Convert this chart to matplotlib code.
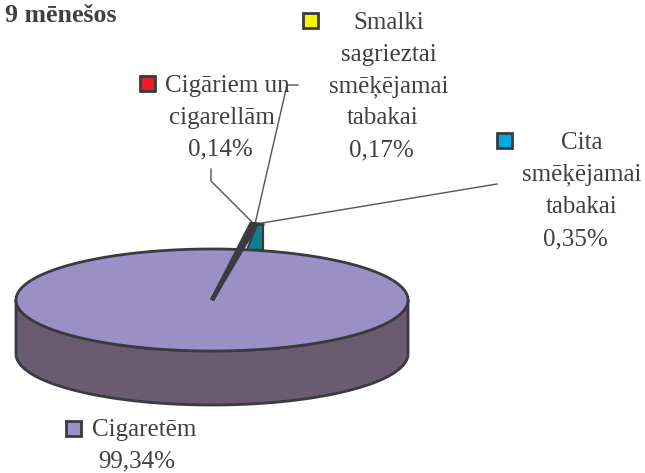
import numpy as np
import matplotlib
matplotlib.use('Agg')
import matplotlib.pyplot as plt
from matplotlib.patches import Polygon, Rectangle

plt.rcParams['font.family'] = ['Liberation Serif', 'DejaVu Serif']

title = '9 mēnešos'
# going counter clockwise from the start angle
names = ['Cita\nsmēķējamai\ntabakai', 'Smalki\nsagrieztai\nsmēķējamai\ntabakai',
         'Cigāriem un\ncigarellām', 'Cigaretēm']
values = [0.35, 0.17, 0.14, 99.34]
colors = ['#0f7f8c', '#fff200', '#ed1c24', '#9b90c6']
key_colors = ['#00a8e8', '#fff200', '#ed1c24', '#9b90c6']

side_color = '#6b5b70'
edge = '#3a3a42'
text_color = '#404040'
cx, cy, rx, ry, depth = 212, 300, 196, 51, 54
lift = 1.5  # small slices stick out of the pie
start = 80.0

fig = plt.figure(figsize=(6.45, 4.73), dpi=100)
ax = fig.add_axes([0, 0, 1, 1])
ax.set_xlim(0, 645)
ax.set_ylim(473, 0)
ax.axis('off')


def pt(deg, r=1.0):
    a = np.radians(deg)
    return cx + rx * r * np.cos(a), cy - ry * r * np.sin(a)


# side of the pie
t = np.linspace(180, 360, 200)
xs, ys = pt(t)
wall = list(zip(xs, ys)) + list(zip(xs[::-1], ys[::-1] + depth))
ax.add_patch(Polygon(wall, fc=side_color, ec=edge, lw=2, joinstyle='round', zorder=1))

angles = start + np.cumsum([0] + values) * 3.6

# big slice
t = np.linspace(angles[3], angles[4], 400)
xs, ys = pt(t)
ax.add_patch(Polygon(list(zip(xs, ys)), fc=colors[3], ec=edge, lw=2, zorder=2))

# back wall of the small slices, down to the pie rim
x0, y0 = pt(angles[0], lift)
x1, y1 = pt(angles[1], lift)
rim = pt(angles[0])[1]
ax.add_patch(Polygon([(x0, y0), (x0, rim), (x0 - 16, rim), (x1, y1)], fc=colors[0], ec=edge, lw=1.5, zorder=3))

# thin slices
for i in [1, 2]:
    xa, ya = pt(angles[i], lift)
    xb, yb = pt(angles[i + 1], lift)
    ax.add_patch(Polygon([(cx, cy), (xa, ya), (xb, yb)], fc=colors[i], ec=edge, lw=3,
                         joinstyle='miter', zorder=4))
xa, ya = pt(angles[0], lift)
xb, yb = pt(angles[1], lift)
ax.plot([xa, xb], [ya, yb], color=edge, lw=2, zorder=4)

# leader lines
ax.plot([497, 256], [184, 224], color='#555555', lw=1, zorder=2.5)
ax.plot([298, 287, 255], [85, 85, 224], color='#555555', lw=1, zorder=2.5)
ax.plot([211, 211, 254], [169, 181, 224], color='#555555', lw=1, zorder=2.5)

ax.text(5, 16, title, fontsize=18.6, fontweight='bold', color=text_color, ha='left', va='center')

# legend keys
key_pos = [(504, 140), (310, 21), (147, 84), (73, 428)]
for (kx, ky), c in zip(key_pos, key_colors):
    ax.add_patch(Rectangle((kx - 7.5, ky - 7.5), 15, 15, fc=c, ec=edge, lw=2, zorder=5))

# labels, one line per entry
label_lines = [
    [(582, 143), (582, 175), (582, 207)],
    [(389, 23), (389, 55), (389, 87), (383, 118)],
    [(227, 86), (222, 118)],
    [(144, 430)],
]
pct_pos = [(575, 239), (381, 150), (220, 149), (137, 461)]
for name, lines, val, pos in zip(names, label_lines, values, pct_pos):
    for line, (lx, ly) in zip(name.split('\n'), lines):
        ax.text(lx, ly, line, fontsize=18, color=text_color, ha='center', va='center')
    ax.text(pos[0], pos[1], f'{val:.2f}%'.replace('.', ','), fontsize=18, color=text_color,
            ha='center', va='center')

fig.savefig('out.png', dpi=100)
